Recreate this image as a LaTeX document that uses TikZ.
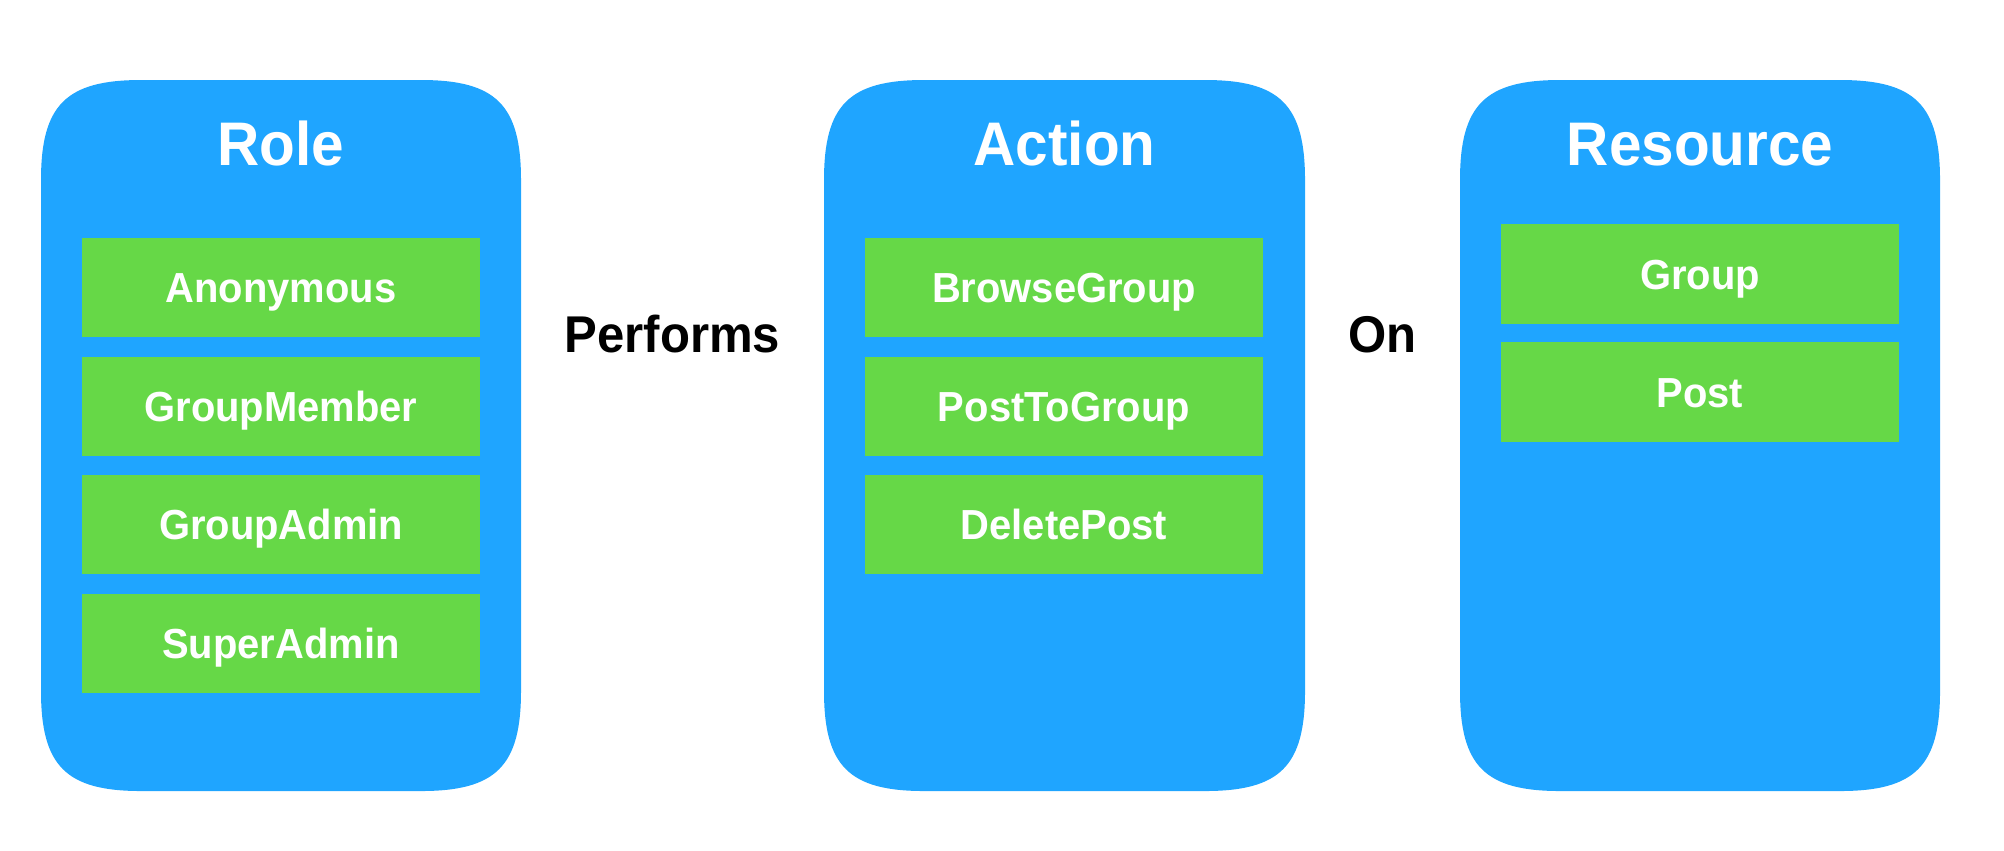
\documentclass[tikz,border=0pt]{standalone}
\usepackage{fontspec}
\setmainfont{Liberation Sans}[FakeStretch=0.95]
\definecolor{boxblue}{HTML}{1FA5FF}
\definecolor{itemgreen}{HTML}{66D847}
\newcommand\sqbox[4]{%
  \fill[boxblue] (#1,{#2+100}) .. controls (#1,{#2+25}) and ({#1+25},#2) .. ({#1+100},#2)
    -- ({#3-100},#2) .. controls ({#3-25},#2) and (#3,{#2+25}) .. (#3,{#2+100})
    -- (#3,{#4-100}) .. controls (#3,{#4-25}) and ({#3-25},#4) .. ({#3-100},#4)
    -- ({#1+100},#4) .. controls ({#1+25},#4) and (#1,{#4-25}) .. (#1,{#4-100}) -- cycle;}
\tikzset{
  item/.style={fill=itemgreen, text=white, minimum width=3.98cm, minimum height=0.99cm,
    inner sep=0pt, text height=0.30cm, text depth=0pt,
    font=\fontsize{11.95pt}{13pt}\selectfont\bfseries},
  title/.style={text=white, inner sep=0pt, text height=0.44cm, text depth=0pt,
    font=\fontsize{17.5pt}{19pt}\selectfont\bfseries},
  relation/.style={text=black, inner sep=0pt, text height=0.37cm, text depth=0pt,
    font=\fontsize{14.7pt}{16pt}\selectfont\bfseries}
}
\begin{document}
\begin{tikzpicture}[x=0.01cm,y=-0.01cm]
\useasboundingbox (0,0) rectangle (2004,850);
\sqbox{41}{80}{521}{791}
\sqbox{824}{80}{1305}{791}
\sqbox{1460}{80}{1940}{791}
\node[title] (role) at (281,143) {Role};
\node[title] (action) at (1064.5,143) {Action};
\node[title] (resource) at (1700,143) {Resource};
\node[item] (anonymous) at (281,287.5) {Anonymous};
\node[item] (groupmember) at (281,406.5) {GroupMember};
\node[item] (groupadmin) at (281,524.5) {GroupAdmin};
\node[item] (superadmin) at (281,643.5) {SuperAdmin};
\node[item] (browsegroup) at (1064,287.5) {BrowseGroup};
\node[item] (posttogroup) at (1064,406.5) {PostToGroup};
\node[item] (deletepost) at (1064,524.5) {DeletePost};
\node[item] (group) at (1700,274) {Group};
\node[item] (post) at (1700,392) {Post};
\node[relation] (performs) at (672.5,334) {Performs};
\node[relation] (on) at (1382.5,334) {On};
\end{tikzpicture}
\end{document}
